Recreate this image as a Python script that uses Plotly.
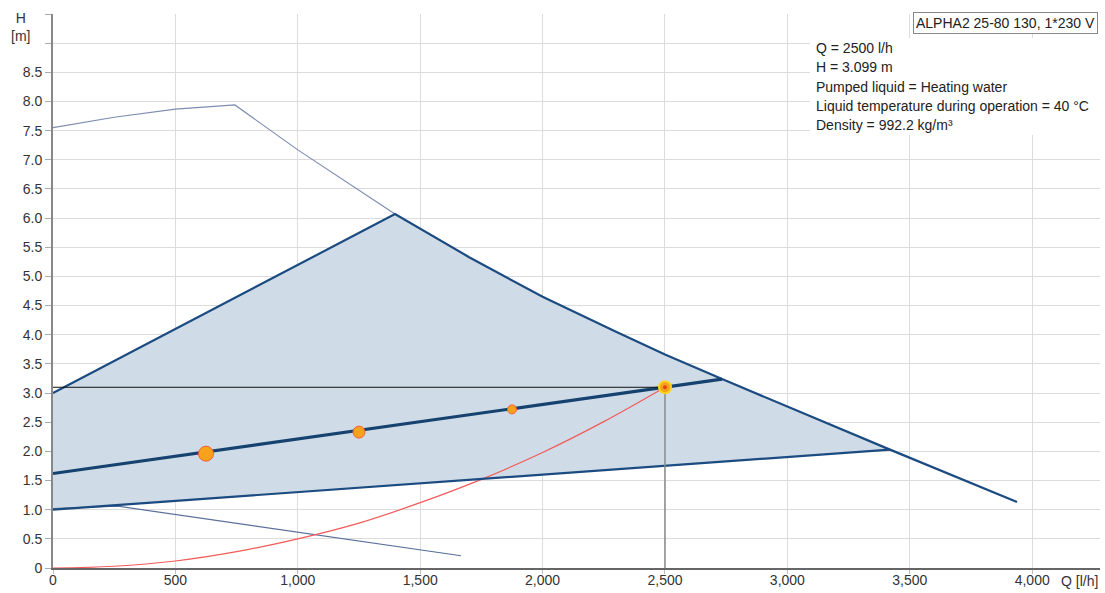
import plotly.graph_objects as go

# ---- data ----
max_q = [0, 250, 500, 743, 1000, 1200, 1397]
max_h = [7.55, 7.73, 7.87, 7.94, 7.17, 6.62, 6.07]

upper_q = [0, 1397, 1700, 2000, 2300, 2500, 2733, 3419, 3938]
upper_h = [3.0, 6.07, 5.33, 4.65, 4.05, 3.66, 3.24, 2.03, 1.13]

lower_q = [0, 3419]
lower_h = [1.0, 2.03]

op_curve_q = [0, 2733]
op_curve_h = [1.62, 3.24]

min_q = [0, 265, 1667]
min_h = [1.02, 1.06, 0.21]

sys_q = [0, 250, 500, 750, 1000, 1250, 1500, 1750, 2000, 2250, 2500]
sys_h = [0, 0.03, 0.12, 0.28, 0.50, 0.77, 1.12, 1.52, 1.98, 2.51, 3.10]

pts_q = [625, 1250, 1875]
pts_h = [1.96, 2.33, 2.72]
pts_size = [15, 12, 9]

duty_q = 2500
duty_h = 3.099

y_ticks = [0, 0.5, 1.0, 1.5, 2.0, 2.5, 3.0, 3.5, 4.0, 4.5, 5.0, 5.5, 6.0, 6.5, 7.0, 7.5, 8.0, 8.5, 9.0, 9.5]
y_labels = ["0", "0.5", "1.0", "1.5", "2.0", "2.5", "3.0", "3.5", "4.0", "4.5", "5.0", "5.5", "6.0",
            "6.5", "7.0", "7.5", "8.0", "8.5", "", ""]
x_ticks = [0, 500, 1000, 1500, 2000, 2500, 3000, 3500, 4000]

title_text = "ALPHA2 25-80 130, 1*230 V"
info_lines = ["Q = 2500 l/h", "H = 3.099 m", "Pumped liquid = Heating water",
              "Liquid temperature during operation = 40 °C", "Density = 992.2 kg/m³"]

# shaded operating area: lower line + upper boundary up to its crossing with the lower line
n_up = upper_q.index(lower_q[-1]) + 1
area_q = [lower_q[0]] + upper_q[:n_up] + [lower_q[0]]
area_h = [lower_h[0]] + upper_h[:n_up] + [lower_h[0]]

DARK = "#1b4b80"
FONT = "Liberation Sans, Arial, sans-serif"
FS = 14
W, H = 1105, 593
ML, MR, MT, MB = 53, 5, 14, 25
PH = H - MT - MB


def py(ypix):
    return (H - MB - ypix) / PH


def px(xpix):
    return (xpix - ML) / (W - ML - MR)


fig = go.Figure()

fig.add_trace(go.Scatter(x=area_q, y=area_h, fill="toself", fillcolor="#cfdce7",
                         line=dict(width=0), mode="lines", hoverinfo="skip"))
fig.add_trace(go.Scatter(x=max_q, y=max_h, mode="lines", line=dict(color="#7d8db0", width=1.2)))
fig.add_trace(go.Scatter(x=min_q, y=min_h, mode="lines", line=dict(color="#5a6f9a", width=1.2)))
fig.add_trace(go.Scatter(x=sys_q, y=sys_h, mode="lines", line=dict(color="#f25a5a", width=1.2, shape="spline")))
fig.add_trace(go.Scatter(x=upper_q, y=upper_h, mode="lines", line=dict(color=DARK, width=2.2)))
fig.add_trace(go.Scatter(x=lower_q, y=lower_h, mode="lines", line=dict(color=DARK, width=2.2)))
fig.add_trace(go.Scatter(x=op_curve_q, y=op_curve_h, mode="lines", line=dict(color="#15426f", width=3.2)))
fig.add_trace(go.Scatter(x=[0, duty_q], y=[duty_h, duty_h], mode="lines", line=dict(color="#111111", width=1)))
fig.add_trace(go.Scatter(x=[duty_q, duty_q], y=[0, duty_h], mode="lines", line=dict(color="#8a8a8a", width=1.5)))
fig.add_trace(go.Scatter(x=pts_q, y=pts_h, mode="markers",
                         marker=dict(size=pts_size, color="#f8a11b", opacity=1,
                                     line=dict(color="#f4603a", width=1))))
fig.add_trace(go.Scatter(x=[duty_q], y=[duty_h], mode="markers",
                         marker=dict(size=12, color="#f7a11a", opacity=1, line=dict(color="#ffd21f", width=2))))
fig.add_trace(go.Scatter(x=[duty_q], y=[duty_h], mode="markers",
                         marker=dict(size=4, color="#e8401c", opacity=1, line=dict(width=0))))

fig.update_layout(
    width=W, height=H,
    margin=dict(l=ML, r=MR, t=MT, b=MB, autoexpand=False),
    paper_bgcolor="white", plot_bgcolor="white",
    showlegend=False,
    separators=".,",
    font=dict(family=FONT, size=FS, color="#333333"),
    xaxis=dict(range=[0, 4277], tickvals=x_ticks, tickformat=",", showgrid=True,
               gridcolor="#dcdcdc", gridwidth=1, zeroline=False, automargin=False,
               showline=True, linecolor="#666666", linewidth=1.5,
               ticks="outside", ticklen=4, tickcolor="#bbbbbb", ticklabelstandoff=-6,
               tickfont=dict(size=FS, color="#333333")),
    yaxis=dict(range=[0, 9.5], tickvals=y_ticks, ticktext=y_labels, showgrid=True,
               gridcolor="#dcdcdc", gridwidth=1, zeroline=False, automargin=False,
               showline=True, linecolor="#888888", linewidth=2,
               ticks="outside", ticklen=6, tickcolor="#aaaaaa",
               tickfont=dict(size=FS, color="#333333")),
)

# white backdrop behind the info text
fig.add_shape(type="rect", xref="paper", yref="paper", x0=px(810), x1=px(1100), y0=py(135), y1=py(38),
              fillcolor="white", line=dict(width=0), layer="above")

fig.add_annotation(xref="paper", yref="paper", x=-0.0315, y=1.0, yshift=6, xanchor="center", yanchor="top",
                   text="H<br>[m]", showarrow=False, font=dict(size=FS, color="#333333"), align="center")
fig.add_annotation(xref="paper", yref="paper", x=1.0, y=0, yshift=-3, xanchor="right", yanchor="top",
                   text="Q [l/h]", showarrow=False, font=dict(size=FS, color="#333333"))
fig.add_annotation(xref="paper", yref="paper", x=0.9985, y=1.0, yshift=2, xanchor="right", yanchor="top",
                   text=title_text, showarrow=False, bgcolor="white", bordercolor="#888888",
                   borderwidth=1, borderpad=2, font=dict(size=FS, color="#222222"))
for i, line in enumerate(info_lines):
    fig.add_annotation(xref="paper", yref="paper", x=px(814), y=py(48 + i * 19.3), xanchor="left",
                       yanchor="middle", text=line, showarrow=False, align="left",
                       font=dict(size=FS, color="#222222"))

fig.write_html("out.html", post_script="document.body.style.margin='0';",
               config={"displayModeBar": False})
